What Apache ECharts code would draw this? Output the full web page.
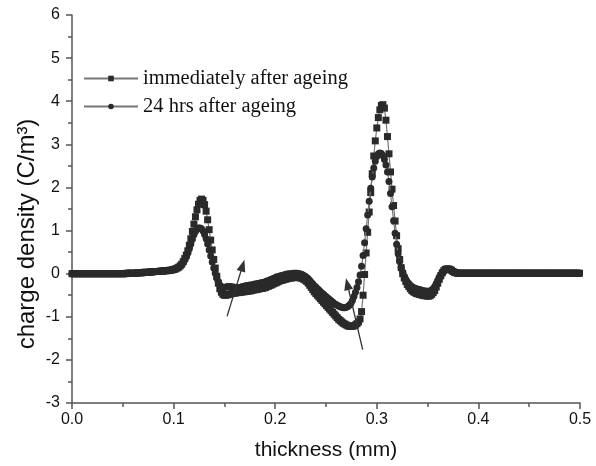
<!DOCTYPE html>
<html>
<head>
<meta charset="utf-8">
<script src="https://cdn.jsdelivr.net/npm/echarts@6/dist/echarts.min.js"></script>
<style>
  html, body { margin: 0; padding: 0; background: #fff; }
  #chart { width: 596px; height: 466px; }
</style>
</head>
<body>
<div id="chart"></div>
<script>
// Sampling grid along the sample thickness (mm)
const THICKNESS_START = 0;
const THICKNESS_STEP = 0.0015;

const seriesNames = ['immediately after ageing', '24 hrs after ageing'];

// Space charge density (C/m^3), immediately after ageing
const chargeImmediate = [
  0,0,0,0,0,0,0,0,0,0, 0,0,0,0,0,0,0,0,0,0, 0,0,0,0,0,0,0,0,0,0, 0,0,0,0,0,0,0.01,0.01,0.01,0.01,
  0.01,0.01,0.01,0.02,0.02,0.02,0.02,0.03,0.03,0.03, 0.03,0.04,0.04,0.04,0.05,0.05,0.05,0.05,0.06,0.06,
  0.06,0.07,0.07,0.07,0.08,0.08,0.09,0.10,0.11,0.13, 0.15,0.18,0.22,0.28,0.35,0.43,0.53,0.66,0.81,0.98,
  1.15,1.32,1.48,1.61,1.70,1.73,1.70,1.60,1.45,1.25, 1.02,0.78,0.55,0.33,0.13,-0.06,-0.22,-0.35,-0.43,-0.48,
  -0.50,-0.50,-0.49,-0.48,-0.47,-0.46,-0.45,-0.45,-0.44,-0.44, -0.43,-0.43,-0.42,-0.42,-0.41,-0.41,-0.40,-0.40,-0.39,-0.38,
  -0.37,-0.37,-0.36,-0.35,-0.34,-0.34,-0.33,-0.32,-0.30,-0.29, -0.27,-0.26,-0.24,-0.22,-0.21,-0.19,-0.17,-0.16,-0.15,-0.14,
  -0.13,-0.12,-0.11,-0.10,-0.10,-0.09,-0.09,-0.09,-0.09,-0.09, -0.10,-0.11,-0.13,-0.15,-0.18,-0.22,-0.27,-0.32,-0.37,-0.42,
  -0.46,-0.50,-0.54,-0.58,-0.62,-0.66,-0.70,-0.74,-0.78,-0.82, -0.86,-0.90,-0.94,-0.98,-1.02,-1.06,-1.09,-1.12,-1.15,-1.17,
  -1.19,-1.21,-1.22,-1.22,-1.22,-1.21,-1.19,-1.16,-1.12,-1.05, -0.88,-0.50,-0.02,0.48,0.96,1.43,1.88,2.32,2.73,3.08,
  3.38,3.62,3.80,3.90,3.92,3.84,3.56,3.18,2.78,2.36, 1.96,1.58,1.22,0.88,0.58,0.33,0.14,0.00,-0.10,-0.18,
  -0.25,-0.30,-0.35,-0.39,-0.42,-0.44,-0.46,-0.47,-0.48,-0.49, -0.50,-0.51,-0.51,-0.52,-0.52,-0.51,-0.48,-0.44,-0.39,-0.31,
  -0.22,-0.13,-0.05,0.02,0.07,0.10,0.11,0.11,0.10,0.08, 0.05,0.03,0.02,0.01,0.01,0.01,0.01,0.01,0.01,0.01,
  0.01,0.01,0.01,0.01,0.01,0.01,0.01,0.01,0.01,0.01, 0.01,0.01,0.01,0.01,0.01,0.01,0.01,0.01,0.01,0.01,
  0.01,0.01,0.01,0.01,0.01,0.01,0.01,0.01,0.01,0.01, 0.01,0.01,0.01,0.01,0.01,0.01,0.01,0.01,0.01,0.01,
  0.01,0.01,0.01,0.01,0.01,0.01,0.01,0.01,0.01,0.01, 0.01,0.01,0.01,0.01,0.01,0.01,0.01,0.01,0.01,0.01,
  0.01,0.01,0.01,0.01,0.01,0.01,0.01,0.01,0.01,0.01, 0.01,0.01,0.01,0.01
];

// Space charge density (C/m^3), 24 hours after ageing
const charge24h = [
  0,0,0,0,0,0,0,0,0,0, 0,0,0,0,0,0,0,0,0,0, 0,0,0,0,0,0,0,0,0,0, 0,0,0,0,0,0,0.01,0.01,0.01,0.01,
  0.01,0.01,0.01,0.02,0.02,0.02,0.02,0.03,0.03,0.03, 0.03,0.04,0.04,0.04,0.05,0.05,0.05,0.05,0.06,0.06,
  0.06,0.07,0.07,0.07,0.08,0.08,0.09,0.10,0.11,0.13, 0.15,0.18,0.21,0.26,0.32,0.39,0.48,0.58,0.69,0.80,
  0.90,0.98,1.03,1.06,1.06,1.04,0.99,0.91,0.81,0.69, 0.55,0.41,0.27,0.13,0.01,-0.10,-0.19,-0.26,-0.30,-0.32,
  -0.32,-0.31,-0.30,-0.30,-0.30,-0.31,-0.31,-0.32,-0.32,-0.32, -0.32,-0.31,-0.30,-0.29,-0.28,-0.28,-0.27,-0.26,-0.26,-0.25,
  -0.24,-0.24,-0.23,-0.22,-0.21,-0.21,-0.20,-0.19,-0.17,-0.16, -0.14,-0.13,-0.11,-0.10,-0.08,-0.07,-0.06,-0.05,-0.04,-0.03,
  -0.02,-0.01,-0.01,0.00,0.00,0.01,0.01,0.01,0.01,0.00, -0.01,-0.02,-0.04,-0.06,-0.09,-0.12,-0.16,-0.20,-0.24,-0.28,
  -0.31,-0.35,-0.38,-0.42,-0.45,-0.48,-0.51,-0.54,-0.57,-0.60, -0.63,-0.66,-0.69,-0.71,-0.73,-0.75,-0.77,-0.78,-0.79,-0.79,
  -0.78,-0.76,-0.73,-0.69,-0.62,-0.53,-0.43,-0.32,-0.19,-0.03, 0.17,0.42,0.72,1.04,1.36,1.68,1.98,2.24,2.45,2.61,
  2.72,2.78,2.80,2.79,2.74,2.65,2.52,2.36,2.14,1.86, 1.55,1.23,0.94,0.68,0.46,0.28,0.14,0.03,-0.06,-0.13,
  -0.19,-0.23,-0.27,-0.30,-0.32,-0.34,-0.35,-0.36,-0.37,-0.38, -0.39,-0.40,-0.40,-0.41,-0.41,-0.40,-0.38,-0.35,-0.30,-0.23,
  -0.15,-0.08,-0.02,0.03,0.07,0.09,0.10,0.10,0.09,0.07, 0.05,0.03,0.02,0.01,0.01,0.01,0.01,0.01,0.01,0.01,
  0.01,0.01,0.01,0.01,0.01,0.01,0.01,0.01,0.01,0.01, 0.01,0.01,0.01,0.01,0.01,0.01,0.01,0.01,0.01,0.01,
  0.01,0.01,0.01,0.01,0.01,0.01,0.01,0.01,0.01,0.01, 0.01,0.01,0.01,0.01,0.01,0.01,0.01,0.01,0.01,0.01,
  0.01,0.01,0.01,0.01,0.01,0.01,0.01,0.01,0.01,0.01, 0.01,0.01,0.01,0.01,0.01,0.01,0.01,0.01,0.01,0.01,
  0.01,0.01,0.01,0.01,0.01,0.01,0.01,0.01,0.01,0.01, 0.01,0.01,0.01,0.01
];

// Arrows marking the change between the two profiles: [tail, head] in (mm, C/m^3)
const arrowDip1 = [[0.1526, -0.99], [0.168, 0.19]];
const arrowDip2 = [[0.2861, -1.76], [0.271, -0.24]];

const xTicks = { min: 0, max: 0.5, interval: 0.1 };
const yTicks = { min: -3, max: 6, interval: 1 };

function toPairs(values) {
  return values.map((v, i) => [+(THICKNESS_START + i * THICKNESS_STEP).toFixed(4), v]);
}

const axisColor = '#555';
const markColor = '#2a2a2a';

const chart = echarts.init(document.getElementById('chart'), null, { renderer: 'canvas' });

chart.setOption({
  animation: false,
  backgroundColor: '#fff',
  grid: { left: 72, right: 16, top: 15, bottom: 59, containLabel: false },
  legend: {
    orient: 'vertical',
    left: 83,
    top: 68,
    padding: 0,
    itemWidth: 54,
    itemHeight: 7,
    itemGap: 7,
    textStyle: { fontFamily: 'Liberation Serif', fontSize: 20.5, color: '#111' },
    data: seriesNames
  },
  xAxis: {
    type: 'value',
    min: xTicks.min, max: xTicks.max, interval: xTicks.interval,
    name: 'thickness (mm)',
    nameLocation: 'middle',
    nameGap: 37,
    nameTextStyle: { fontFamily: 'Liberation Sans', fontSize: 21, color: '#111' },
    axisLine: { show: true, onZero: false, lineStyle: { color: axisColor, width: 1.5 } },
    axisTick: { show: true, inside: false, length: 6, lineStyle: { color: axisColor, width: 1.5 } },
    minorTick: { show: true, splitNumber: 2, length: 4, lineStyle: { color: axisColor, width: 1.5 } },
    splitLine: { show: false },
    axisLabel: {
      margin: 9, fontFamily: 'Liberation Sans', fontSize: 16, color: '#111',
      formatter: v => v.toFixed(1)
    }
  },
  yAxis: {
    type: 'value',
    min: yTicks.min, max: yTicks.max, interval: yTicks.interval,
    axisLine: { show: true, onZero: false, lineStyle: { color: axisColor, width: 1.5 } },
    axisTick: { show: true, inside: false, length: 6, lineStyle: { color: axisColor, width: 1.5 } },
    minorTick: { show: true, splitNumber: 2, length: 4, lineStyle: { color: axisColor, width: 1.5 } },
    splitLine: { show: false },
    axisLabel: { margin: 12, fontFamily: 'Liberation Sans', fontSize: 16, color: '#111' }
  },
  graphic: [{
    type: 'text',
    x: 27,
    y: 234,
    rotation: Math.PI / 2,
    style: {
      text: 'charge density (C/m³)',
      font: '24px "Liberation Sans"',
      fill: '#111',
      textAlign: 'center',
      textVerticalAlign: 'middle'
    }
  }],
  series: [
    {
      name: seriesNames[0],
      type: 'line',
      data: toPairs(chargeImmediate),
      symbol: 'rect',
      symbolSize: 7,
      showAllSymbol: true,
      lineStyle: { color: '#777', width: 1.2 },
      itemStyle: { color: markColor },
      z: 2,
      markLine: {
        silent: true,
        symbol: ['none', 'triangle'],
        symbolSize: [9, 12],
        lineStyle: { color: '#333', width: 1.3, type: 'solid' },
        label: { show: false },
        data: [
          [{ coord: arrowDip1[0] }, { coord: arrowDip1[1] }],
          [{ coord: arrowDip2[0] }, { coord: arrowDip2[1] }]
        ]
      }
    },
    {
      name: seriesNames[1],
      type: 'line',
      data: toPairs(charge24h),
      symbol: 'circle',
      symbolSize: 7,
      showAllSymbol: true,
      lineStyle: { color: '#777', width: 1.2 },
      itemStyle: { color: markColor },
      z: 3
    }
  ]
});
</script>
</body>
</html>
